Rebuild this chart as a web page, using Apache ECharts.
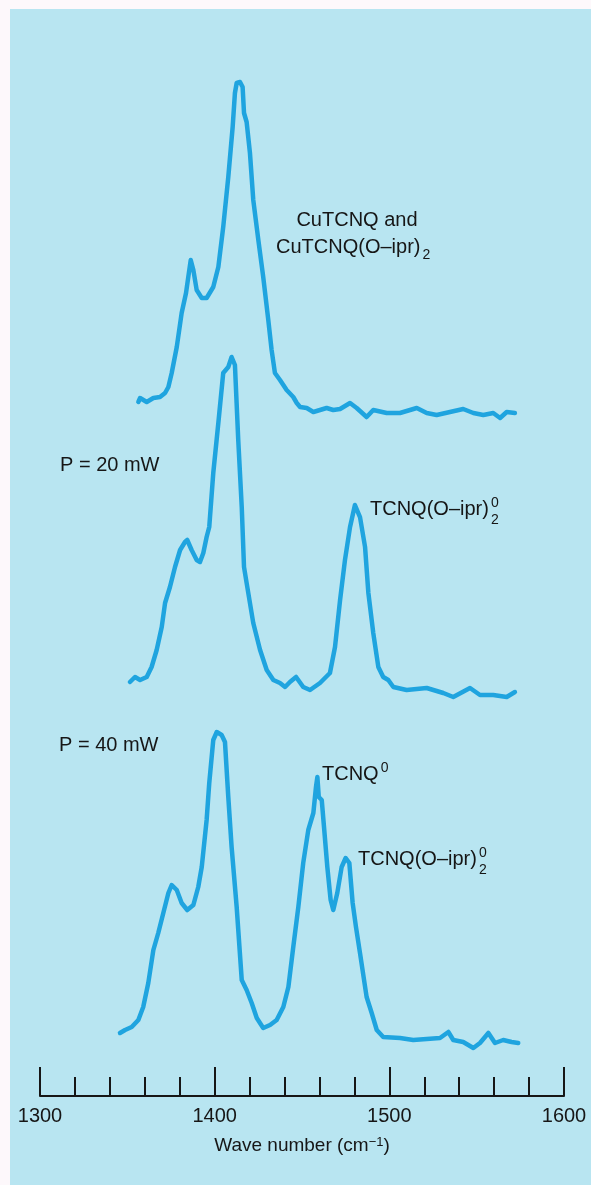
<!DOCTYPE html>
<html>
<head>
<meta charset="utf-8">
<script src="https://cdn.jsdelivr.net/npm/echarts@6/dist/echarts.min.js"></script>
<style>
  html, body { margin: 0; padding: 0; background: #fdf8fb; }
  #chart { width: 591px; height: 1185px; }
</style>
</head>
<body>
<div id="chart"></div>
<script>
// Raman spectra: relative intensity (a.u., above each trace's own baseline) vs. wave number (cm^-1)

// CuTCNQ and CuTCNQ(O-ipr)2
const cuTcnqWavenumber = [1356.3, 1357.3, 1361.1, 1364.9, 1368.7, 1371.6, 1373.5, 1375.4, 1378.3, 1381.1,
  1383.6, 1384.9, 1386.3, 1387.8, 1389.7, 1392.6, 1395.4, 1399.2, 1402.1, 1404.9,
  1407.8, 1410.3, 1411.6, 1412.6, 1414.5, 1416.0, 1416.8, 1418.3, 1420.2, 1422.1,
  1425.0, 1427.8, 1430.7, 1432.6, 1434.5, 1437.4, 1441.2, 1445.0, 1447.0, 1448.9,
  1452.7, 1456.5, 1460.3, 1464.1, 1467.9, 1471.8, 1477.5, 1481.3, 1487.0, 1490.8,
  1498.5, 1506.1, 1515.7, 1521.4, 1527.1, 1534.7, 1542.3, 1548.1, 1553.8, 1559.5,
  1563.4, 1567.2, 1571.9];
const cuTcnqIntensity = [10, 14, 10, 14, 15, 19, 25, 39, 65, 99,
  119, 135, 152, 142, 122, 114, 114, 125, 145, 185,
  235, 285, 319, 329, 330, 325, 299, 290, 259, 212,
  172, 135, 92, 62, 39, 32, 22, 15, 9, 5,
  4, 0, 2, 4, 2, 3, 9, 4, -5, 2,
  -1, -1, 4, -1, -3, 0, 3, -1, -3, -1,
  -6, 0, -1];

// P = 20 mW
const p20Wavenumber = [1351.5, 1354.4, 1357.3, 1361.1, 1363.9, 1366.8, 1369.7, 1371.6, 1374.4, 1377.3,
  1380.2, 1383.0, 1384.3, 1386.8, 1389.7, 1391.6, 1393.5, 1395.4, 1396.9, 1399.2,
  1402.1, 1404.9, 1407.8, 1409.7, 1411.6, 1413.5, 1415.5, 1416.8, 1418.3, 1422.1,
  1426.0, 1429.8, 1433.6, 1437.4, 1440.3, 1443.1, 1446.6, 1450.7, 1454.6, 1460.3,
  1466.0, 1468.9, 1471.8, 1474.6, 1477.5, 1480.3, 1483.2, 1486.1, 1488.0, 1490.8,
  1493.7, 1496.5, 1499.4, 1502.3, 1509.9, 1521.4, 1530.9, 1536.6, 1546.2, 1551.9,
  1559.5, 1567.2, 1571.9];
const p20Intensity = [8, 13, 10, 13, 23, 40, 63, 87, 103, 123,
  140, 148, 150, 140, 130, 128, 137, 153, 163, 217,
  267, 317, 323, 333, 325, 250, 183, 123, 107, 67,
  40, 20, 10, 7, 3, 8, 13, 3, 0, 7,
  17, 43, 90, 130, 163, 185, 173, 143, 97, 57,
  23, 13, 10, 3, 0, 2, -3, -7, 2, -5,
  -5, -7, -2];

// P = 40 mW
const p40Wavenumber = [1345.8, 1348.7, 1352.5, 1356.3, 1359.1, 1362.0, 1364.9, 1367.7, 1370.6, 1373.5,
  1375.4, 1378.3, 1381.1, 1384.3, 1387.8, 1390.6, 1392.6, 1395.4, 1396.9, 1399.2,
  1401.2, 1404.0, 1405.9, 1407.8, 1409.7, 1412.6, 1415.5, 1418.3, 1421.2, 1424.1,
  1427.8, 1431.7, 1435.5, 1439.3, 1442.2, 1445.0, 1447.9, 1450.7, 1453.6, 1456.5,
  1458.0, 1458.8, 1459.6, 1461.3, 1462.6, 1464.5, 1466.4, 1467.9, 1470.2, 1472.7,
  1475.0, 1477.1, 1479.0, 1480.9, 1483.2, 1487.0, 1489.9, 1492.8, 1496.5, 1506.1,
  1513.7, 1521.4, 1529.0, 1533.8, 1536.6, 1542.3, 1548.1, 1551.9, 1556.7, 1560.5,
  1565.2, 1570.0, 1573.8];
const p40Intensity = [7, 10, 13, 20, 33, 57, 90, 107, 127, 147,
  155, 150, 137, 130, 135, 153, 173, 220, 257, 300,
  308, 305, 298, 243, 193, 133, 60, 50, 37, 22,
  12, 15, 20, 33, 53, 93, 133, 177, 210, 227,
  253, 263, 243, 240, 213, 173, 140, 130, 147, 173,
  182, 177, 137, 113, 87, 43, 27, 10, 3, 2,
  0, 1, 2, 8, 0, -2, -8, -3, 7, -3,
  0, -2, -3];

// vertical stacking offsets of the three traces
const traceOffsets = { cuTcnq: 684, p20: 406, p40: 56 };

// wave number axis
const axisTicks = [1300, 1400, 1500, 1600];
const minorPerMajor = 5;

const INK = '#161616';
const TRACE = '#1fa4df';
const PANEL = '#b8e5f1';
const FONT = '"Liberation Sans", Arial, Helvetica, sans-serif';

function trace(wn, inten, offset) {
  return wn.map((w, i) => [w, inten[i] + offset]);
}

const measureCtx = document.createElement('canvas').getContext('2d');
function textWidth(s, size) {
  measureCtx.font = size + 'px ' + FONT;
  return measureCtx.measureText(s).width;
}

// text with optional superscript / subscript after it (stacked when both are given)
function label(x, y, main, sup, sub, subDrop) {
  const size = 20, small = 14;
  const w = textWidth(main, size);
  const children = [{
    type: 'text', x: 0, y: 0,
    style: { text: main, fill: INK, fontSize: size, fontFamily: FONT, textVerticalAlign: 'middle' }
  }];
  if (sup) children.push({
    type: 'text', x: w + 2, y: -6,
    style: { text: sup, fill: INK, fontSize: small, fontFamily: FONT, textVerticalAlign: 'middle' }
  });
  if (sub) children.push({
    type: 'text', x: w + 2, y: subDrop || 10,
    style: { text: sub, fill: INK, fontSize: small, fontFamily: FONT, textVerticalAlign: 'middle' }
  });
  return { type: 'group', x: x, y: y, z: 100, children: children };
}

function centered(cx, y, text) {
  return {
    type: 'text', x: cx, y: y, z: 100,
    style: { text: text, fill: INK, fontSize: 20, fontFamily: FONT, textAlign: 'center', textVerticalAlign: 'middle' }
  };
}

const chart = echarts.init(document.getElementById('chart'), null, { renderer: 'canvas' });

const lineStyle = { color: TRACE, width: 4.5, cap: 'round', join: 'round' };

chart.setOption({
  animation: false,
  backgroundColor: '#fdf8fb',
  grid: { left: 40, right: 27, top: 0, bottom: 89, containLabel: false },
  xAxis: {
    type: 'value',
    min: axisTicks[0],
    max: axisTicks[axisTicks.length - 1],
    interval: axisTicks[1] - axisTicks[0],
    axisLine: { show: true, lineStyle: { color: INK, width: 2 } },
    axisTick: { show: true, inside: true, length: 29, lineStyle: { color: INK, width: 2 } },
    minorTick: { show: true, splitNumber: minorPerMajor, length: 19, lineStyle: { color: INK, width: 2 } },
    splitLine: { show: false },
    minorSplitLine: { show: false },
    axisLabel: { color: INK, fontSize: 20, fontFamily: FONT, margin: 10, formatter: v => String(v) },
    name: 'Wave number (cm{sup|−1})',
    nameLocation: 'middle',
    nameGap: 40,
    nameTextStyle: {
      color: INK, fontSize: 19, fontFamily: FONT, lineHeight: 20,
      rich: { sup: { fontSize: 13, fontFamily: FONT, color: INK, verticalAlign: 'top', lineHeight: 13 } }
    }
  },
  yAxis: { type: 'value', min: 0, max: 1096, show: false },
  graphic: [
    { type: 'rect', z: -10, shape: { x: 10, y: 9, width: 581, height: 1176 }, style: { fill: PANEL } },
    centered(357, 220, 'CuTCNQ and'),
    label(276, 247, 'CuTCNQ(O–ipr)', null, '2', 8),
    label(60, 465, 'P = 20 mW'),
    label(370, 509, 'TCNQ(O–ipr)', '0', '2', 11),
    label(59, 745, 'P = 40 mW'),
    label(322, 774, 'TCNQ', '0'),
    label(358, 859, 'TCNQ(O–ipr)', '0', '2', 11)
  ],
  series: [
    { name: 'CuTCNQ', type: 'line', showSymbol: false, silent: true, lineStyle: lineStyle,
      data: trace(cuTcnqWavenumber, cuTcnqIntensity, traceOffsets.cuTcnq) },
    { name: 'P = 20 mW', type: 'line', showSymbol: false, silent: true, lineStyle: lineStyle,
      data: trace(p20Wavenumber, p20Intensity, traceOffsets.p20) },
    { name: 'P = 40 mW', type: 'line', showSymbol: false, silent: true, lineStyle: lineStyle,
      data: trace(p40Wavenumber, p40Intensity, traceOffsets.p40) }
  ]
});
</script>
</body>
</html>
